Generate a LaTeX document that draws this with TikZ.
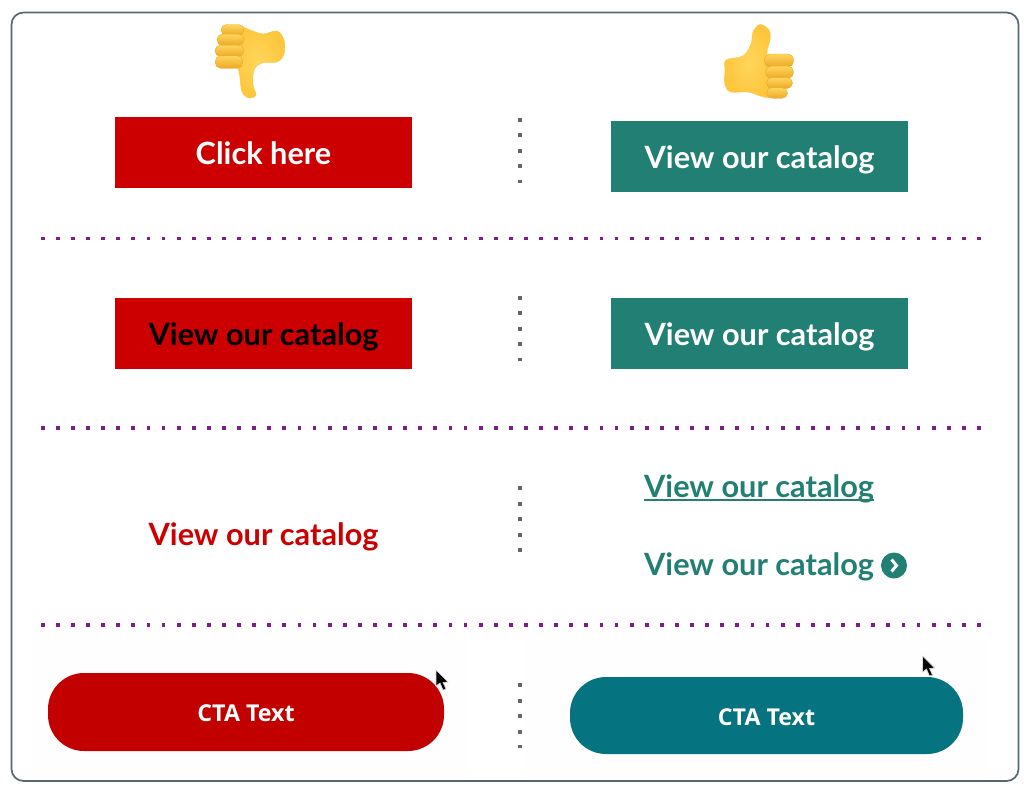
\documentclass[tikz,border=0pt]{standalone}
\usepackage{fontspec}
\setmainfont{Lato}
\newfontfamily\ctafont{Open Sans}
\definecolor{badred}{HTML}{CC0000}
\definecolor{goodgreen}{HTML}{227F73}
\definecolor{pillred}{HTML}{C20000}
\definecolor{pillteal}{HTML}{057380}
\definecolor{framegray}{HTML}{566873}
\definecolor{sepgray}{HTML}{666666}
\definecolor{sepviolet}{HTML}{7B1F87}
\definecolor{thumbfill}{HTML}{FFC93E}
\definecolor{thumblight}{HTML}{FFD65C}
\definecolor{thumbedge}{HTML}{E8A020}
\tikzset{
	ctabox/.style={rectangle, minimum width=297pt, minimum height=70.5pt, inner sep=0pt, text height=24pt, text depth=0.5pt, font=\fontsize{30.7}{32}\selectfont\bfseries},
	ctaplain/.style={inner sep=0pt, text height=24pt, text depth=0.5pt, font=\fontsize{30.7}{32}\selectfont\bfseries, text=goodgreen},
	ctapill/.style={rectangle, rounded corners=36pt, inner sep=0pt, text=white, text height=19.2pt, text depth=0pt, font=\fontsize{23.2}{24}\selectfont\ctafont\bfseries},
	rowsep/.style={line width=3.8pt, sepviolet, line cap=butt, dash pattern=on 3.8pt off 11.3pt},
	colsep/.style={line width=4pt, sepgray, dash pattern=on 4pt off 11.5pt},
	finger/.style={rectangle, rounded corners=5.5pt, top color=thumblight, bottom color=thumbedge!80!thumbfill, draw=thumbedge!80!thumbfill, line width=0.4pt, inner sep=0pt},
	palm/.style={inner color=thumblight, outer color=thumbfill!92!thumbedge, draw=thumbfill!90!thumbedge, line width=0.4pt},
	cursorarrow/.style={fill=black, draw=black!15, line width=0.6pt},
}
\begin{document}
\begin{tikzpicture}[x=1pt, y=-1pt]
	\useasboundingbox (0, 0) rectangle (1024, 795);
	\fill [white] (0, 0) rectangle (1024, 795);
	\draw [framegray, line width=1.7pt, rounded corners=12pt] (11.5, 12.5) rectangle (1018.5, 781);
	% faint screenshot patches
	\fill [black!0.5] (32, 640) rectangle (468, 778);
	\fill [black!0.5] (525, 640) rectangle (987, 778);
	% thumb down
	\path [palm] plot [smooth cycle, tension=0.55] coordinates {(236, 26) (250, 30) (263, 34) (277, 31) (284, 40) (284, 54) (277, 62) (262, 63) (254, 70) (253, 85) (256, 95) (249, 98) (242, 92) (240, 78) (238, 68) (230, 45)};
	\draw (232.5, 30) node [finger, minimum width=23pt, minimum height=11pt] (downa) {};
	\draw (230.5, 39.8) node [finger, minimum width=27pt, minimum height=11.5pt] (downb) {};
	\draw (229.5, 50.8) node [finger, minimum width=29pt, minimum height=11.5pt] (downc) {};
	\draw (229, 62) node [finger, minimum width=27.5pt, minimum height=12.5pt] (downd) {};
	% thumb up
	\path [palm] plot [smooth cycle, tension=0.55] coordinates {(726, 60) (743, 56) (751, 44) (753, 32) (760, 24.5) (769, 30) (770, 40) (767, 54) (775, 75) (770, 97) (748, 92) (731, 92) (725, 85) (725, 70)};
	\draw (779, 60.5) node [finger, minimum width=29pt, minimum height=13pt] (upa) {};
	\draw (779.5, 72.2) node [finger, minimum width=28pt, minimum height=12pt] (upb) {};
	\draw (779.5, 83) node [finger, minimum width=26pt, minimum height=11pt] (upc) {};
	\draw (777, 93) node [finger, minimum width=21pt, minimum height=10.5pt] (upd) {};
	% first row
	\draw (263.5, 152.5) node [ctabox, fill=badred, text=white] (clickhere) {Click here};
	\draw (759.5, 156.5) node [ctabox, fill=goodgreen, text=white] (goodone) {View our catalog};
	% second row
	\draw (263.5, 333.5) node [ctabox, fill=badred, text=black] (lowcontrast) {View our catalog};
	\draw (759.5, 333.5) node [ctabox, fill=goodgreen, text=white] (goodtwo) {View our catalog};
	% third row
	\draw (263.5, 533.5) node [ctaplain, text=badred] (plainred) {View our catalog};
	\draw (759, 486) node [ctaplain] (linkline) {View our catalog};
	\draw (759, 564) node [ctaplain] (linkicon) {View our catalog};
	\draw (894, 565.5) node [circle, fill=goodgreen, minimum size=26pt, inner sep=0pt] (chevron) {};
	\draw [white, line width=3pt] (891.5, 559.5) -- (896.5, 565.5) -- (891.5, 571.5);
	\draw [goodgreen, line width=2.6pt] (linkline.west |- 0, 500) -- (linkline.east |- 0, 500);
	% fourth row
	\draw (246, 712) node [ctapill, fill=pillred, minimum width=396pt, minimum height=78pt] (pillbad) {CTA Text};
	\draw (766.5, 715.5) node [ctapill, fill=pillteal, minimum width=393pt, minimum height=77pt] (pillgood) {CTA Text};
	\fill [cursorarrow] (436, 670) -- (436, 686) -- (440, 683) -- (443, 690) -- (446, 689) -- (443, 682.5) -- (448, 682) -- cycle;
	\fill [cursorarrow] (922.5, 656) -- (922.5, 672) -- (926.5, 669) -- (929.5, 676) -- (932.5, 675) -- (929.5, 668.5) -- (934.5, 668) -- cycle;
	% separators
	\coordinate (rowa) at (40.8, 238.5);
	\coordinate (rowaend) at (981, 238.5);
	\coordinate (rowb) at (40.8, 428);
	\coordinate (rowbend) at (981, 428);
	\coordinate (rowc) at (40.8, 625);
	\coordinate (rowcend) at (981, 625);
	\draw [rowsep] (rowa) -- (rowaend);
	\draw [rowsep] (rowb) -- (rowbend);
	\draw [rowsep] (rowc) -- (rowcend);
	\coordinate (cola) at (519.5, 117.5);
	\coordinate (colaend) at (519.5, 183);
	\coordinate (colb) at (519.5, 295.5);
	\coordinate (colbend) at (519.5, 361);
	\coordinate (colc) at (519.5, 486);
	\coordinate (colcend) at (519.5, 552);
	\coordinate (cold) at (519.5, 683);
	\coordinate (coldend) at (519.5, 748);
	\draw [colsep] (cola) -- (colaend);
	\draw [colsep] (colb) -- (colbend);
	\draw [colsep] (colc) -- (colcend);
	\draw [colsep] (cold) -- (coldend);
\end{tikzpicture}
\end{document}
